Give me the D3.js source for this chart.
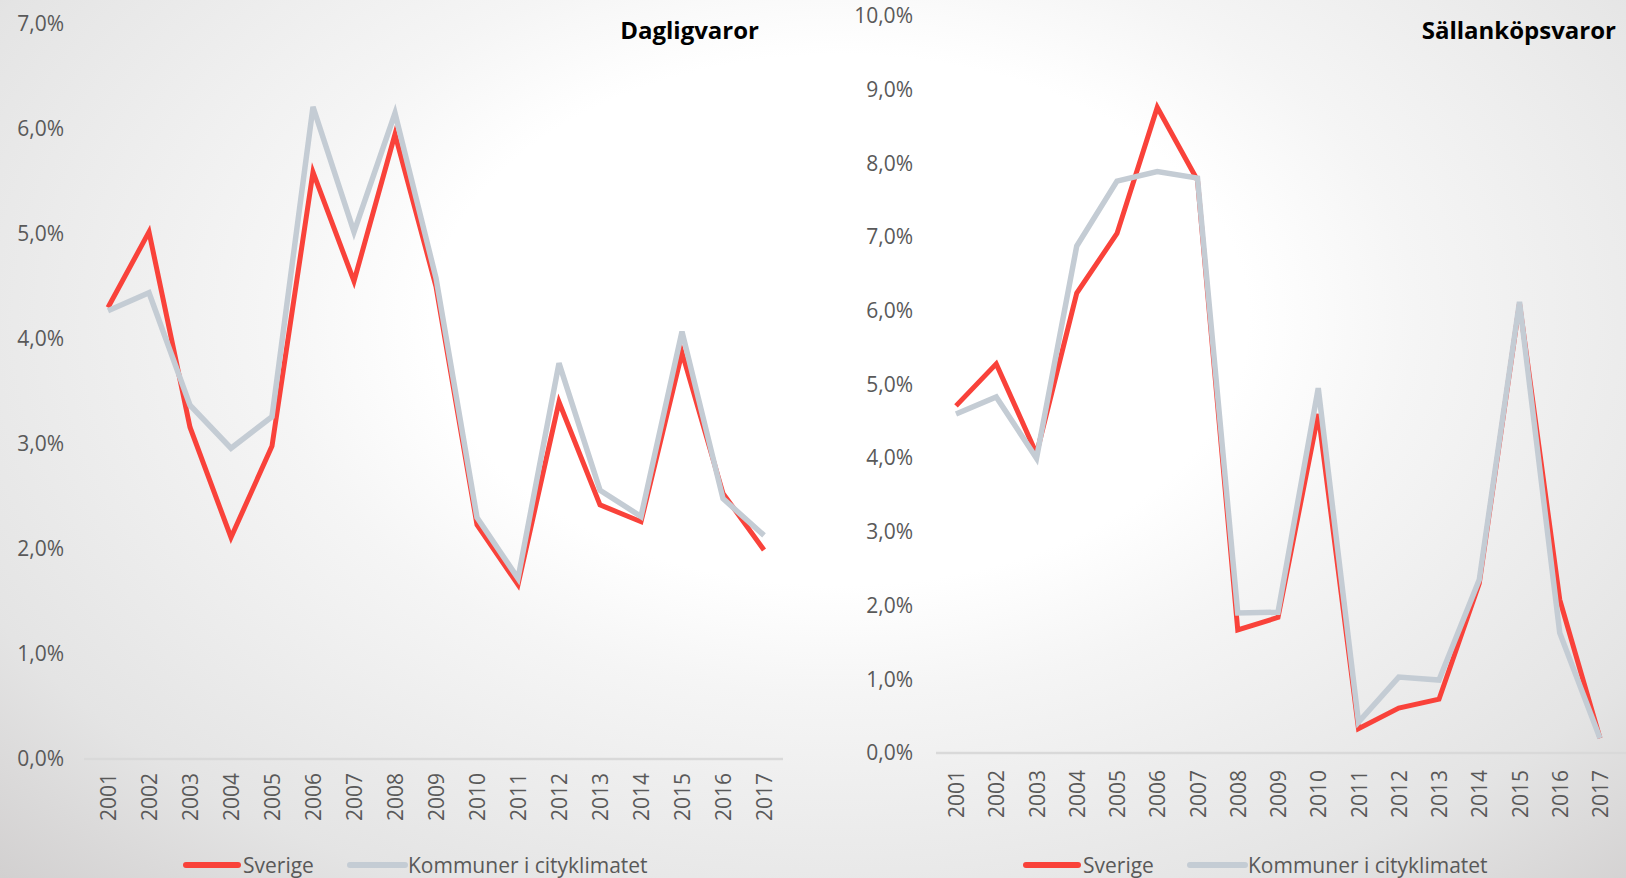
<!DOCTYPE html>
<html>
<head>
<meta charset="utf-8">
<script src="https://cdn.jsdelivr.net/npm/d3@7"></script>
<style>
  html, body { margin: 0; padding: 0; overflow: hidden; }
  body { width: 1626px; height: 878px; }
  text { font-family: "Open Sans", sans-serif; }
</style>
</head>
<body>
<script>
// years on the x axis //
const years = ['2001','2002','2003','2004','2005','2006','2007','2008','2009',
               '2010','2011','2012','2013','2014','2015','2016','2017'];

// Dagligvaror (%) //
const dagligSverige   = [4.30, 5.02, 3.16, 2.11, 2.98, 5.59, 4.55, 5.95, 4.50, 2.23, 1.66, 3.40, 2.42, 2.26, 3.87, 2.53, 1.99];
const dagligKommuner  = [4.27, 4.44, 3.37, 2.96, 3.26, 6.21, 5.02, 6.15, 4.58, 2.30, 1.72, 3.77, 2.56, 2.31, 4.07, 2.48, 2.13];

// Sällanköpsvaror (%) //
const sallanSverige   = [4.71, 5.28, 4.06, 6.24, 7.05, 8.76, 7.77, 1.67, 1.84, 4.60, 0.33, 0.61, 0.73, 2.30, 6.10, 2.08, 0.20];
const sallanKommuner  = [4.60, 4.83, 4.00, 6.88, 7.76, 7.89, 7.80, 1.90, 1.91, 4.95, 0.42, 1.03, 0.99, 2.35, 6.12, 1.63, 0.20];

const seriesNames = ['Sverige', 'Kommuner i cityklimatet'];
const leftTicks  = [0, 1, 2, 3, 4, 5, 6, 7];
const rightTicks = [0, 1, 2, 3, 4, 5, 6, 7, 8, 9, 10];

const W = 1626, H = 878;
const red = '#f9423a', grey = '#c4ccd4', labelColor = '#595959';

const svg = d3.select('body')
  .append('svg')
  .attr('width', W)
  .attr('height', H);

// background: soft elliptical glow //
const defs = svg.append('defs');
const grad = defs.append('radialGradient')
  .attr('id', 'bg')
  .attr('gradientUnits', 'userSpaceOnUse')
  .attr('cx', 0).attr('cy', 0).attr('r', 1)
  .attr('gradientTransform', 'translate(840,320) scale(1200,780)');
[[0, '#ffffff'], [0.34, '#ffffff'], [0.48, '#f5f5f5'], [0.8, '#e4e4e4'], [1, '#d2d0d0']]
  .forEach(s => grad.append('stop').attr('offset', s[0]).attr('stop-color', s[1]));

svg.append('rect')
  .attr('width', W).attr('height', H)
  .attr('fill', 'url(#bg)');

const fmt = d => d.toFixed(1).replace('.', ',') + '%';

function drawChart(cfg) {
  const x = d3.scalePoint().domain(years).range(cfg.xRange);
  const y = d3.scaleLinear().domain(cfg.yDomain).range(cfg.yRange);

  // y axis labels //
  const ya = svg.append('g')
    .attr('transform', 'translate(' + cfg.yAxisX + ',0)')
    .call(d3.axisLeft(y).tickValues(cfg.ticks).tickFormat(fmt).tickSize(0).tickPadding(8));
  ya.select('.domain').remove();
  ya.selectAll('text')
    .attr('fill', labelColor)
    .style('font-size', '21px')
    .style('font-family', '"Open Sans", sans-serif');

  // baseline //
  svg.append('line')
    .attr('x1', cfg.baseX[0]).attr('x2', cfg.baseX[1])
    .attr('y1', y(0)).attr('y2', y(0))
    .attr('stroke', '#d9d9d9')
    .attr('stroke-width', 2.5);

  // x axis years, rotated //
  const xa = svg.append('g')
    .attr('transform', 'translate(0,' + y(0) + ')')
    .call(d3.axisBottom(x).tickSize(0));
  xa.select('.domain').remove();
  xa.selectAll('text')
    .attr('fill', labelColor)
    .style('font-size', '21px')
    .style('font-family', '"Open Sans", sans-serif')
    .attr('text-anchor', 'end')
    .attr('transform', 'rotate(-90)')
    .attr('x', -cfg.yearGap)
    .attr('y', 0)
    .attr('dy', '0.36em');

  const line = d3.line()
    .x((d, i) => x(years[i]))
    .y(d => y(d));

  svg.append('path')
    .attr('d', line(cfg.sverige))
    .attr('fill', 'none')
    .attr('stroke', red)
    .attr('stroke-width', 5)
    .attr('stroke-linejoin', 'miter');

  svg.append('path')
    .attr('d', line(cfg.kommuner))
    .attr('fill', 'none')
    .attr('stroke', grey)
    .attr('stroke-width', 5.5)
    .attr('stroke-linejoin', 'miter');

  // title //
  svg.append('text')
    .attr('x', cfg.titleX)
    .attr('y', 39)
    .attr('text-anchor', 'end')
    .attr('fill', '#000')
    .style('font-size', '24px')
    .style('font-weight', 'bold')
    .text(cfg.title);

  // legend //
  const lg = svg.append('g').attr('transform', 'translate(' + cfg.legendX + ',865)');
  const items = [
    { name: seriesNames[0], color: red, x0: 0, x1: 52, tx: 57 },
    { name: seriesNames[1], color: grey, x0: 164, x1: 219, tx: 222 }
  ];
  items.forEach(it => {
    lg.append('line')
      .attr('x1', it.x0).attr('x2', it.x1)
      .attr('stroke', it.color)
      .attr('stroke-width', 6)
      .attr('stroke-linecap', 'round');
    lg.append('text')
      .attr('x', it.tx)
      .attr('dy', '0.36em')
      .attr('fill', labelColor)
      .style('font-size', '21px')
      .text(it.name);
  });
}

drawChart({
  xRange: [108, 764],
  yDomain: [0, 7], yRange: [759, 24],
  ticks: leftTicks,
  yAxisX: 72,
  baseX: [84, 783],
  yearGap: 14,
  sverige: dagligSverige,
  kommuner: dagligKommuner,
  title: 'Dagligvaror', titleX: 759,
  legendX: 186
});

drawChart({
  xRange: [956, 1600],
  yDomain: [0, 10], yRange: [753, 16],
  ticks: rightTicks,
  yAxisX: 921,
  baseX: [936, 1626],
  yearGap: 17,
  sverige: sallanSverige,
  kommuner: sallanKommuner,
  title: 'Sällanköpsvaror', titleX: 1616,
  legendX: 1026
});
</script>
</body>
</html>
